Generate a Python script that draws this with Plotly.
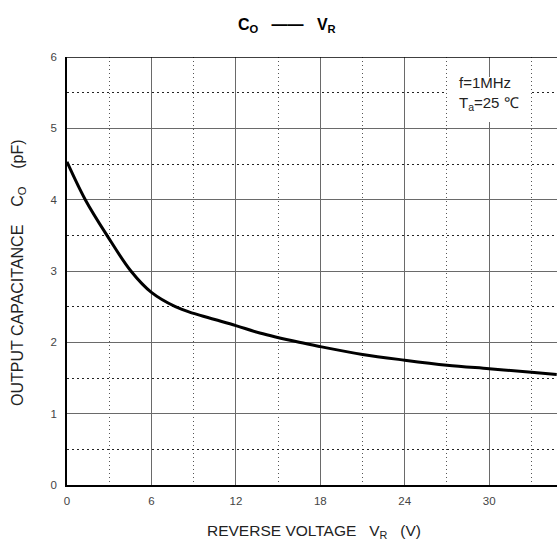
import plotly.graph_objects as go

# Data
vr = [0, 1.3, 2.84, 4.54, 6, 7.7, 9, 10.5, 12, 13.7, 16.5, 18,
      21, 24, 27, 30, 33, 34.8]
co = [4.53, 4.0, 3.5, 3.0, 2.70, 2.5, 2.405, 2.32, 2.235, 2.13, 2.0, 1.94,
      1.83, 1.75, 1.68, 1.63, 1.58, 1.55]
x_ticks = [0, 6, 12, 18, 24, 30]
y_ticks = [0, 1, 2, 3, 4, 5, 6]

W, H = 557, 545
L, R, T, B = 67, 0, 57, 60
PW, PH = W - L - R, H - T - B
X_MAX = 34.82


def px_x(p):
    return (p - L) / PW


def px_y(p):
    return 1 - (p - T) / PH


fig = go.Figure()
fig.add_trace(go.Scatter(x=vr, y=co, mode="lines",
                         line=dict(color="black", width=3, shape="spline", smoothing=1),
                         showlegend=False, hoverinfo="skip"))

axis_common = dict(
    showgrid=True, gridcolor="#6a6a6a", gridwidth=1,
    showline=True, linecolor="black", linewidth=1.5,
    ticks="", zeroline=False,
    tickfont=dict(family="Liberation Sans, Arial", size=11.5, color="#444"),
)
fig.update_xaxes(range=[0, X_MAX], tickvals=x_ticks, **axis_common,
                 minor=dict(dtick=3, tick0=0, showgrid=True, gridcolor="#555",
                            griddash="1px,3px", gridwidth=1, ticks=""),
                 ticklabelstandoff=4)
fig.update_yaxes(range=[0, 6], tickvals=y_ticks, **axis_common,
                 minor=dict(dtick=0.5, tick0=0, showgrid=True, gridcolor="#222",
                            griddash="2px,3px", gridwidth=1, ticks=""),
                 ticklabelstandoff=6)

# top border
fig.add_shape(type="line", xref="paper", yref="y", x0=0, x1=1, y0=6, y1=6,
              line=dict(color="black", width=1.5))
# white box behind the condition note
fig.add_shape(type="rect", xref="paper", yref="paper",
              x0=px_x(447), x1=px_x(529), y0=px_y(122), y1=px_y(77),
              fillcolor="white", line=dict(width=0), layer="above")

font_t = dict(family="Liberation Sans, Arial", color="#222")
nb = "\u00a0"
fig.add_annotation(xref="paper", yref="paper",
                   x=px_x(287), y=px_y(25),
                   text="<b>C<sub>O</sub>" + nb * 3 + "——" + nb * 3 + "V<sub>R</sub></b>",
                   showarrow=False, font=dict(size=16, family="Liberation Sans, Arial", color="black"),
                   xanchor="center", yanchor="middle")
fig.add_annotation(xref="paper", yref="paper",
                   x=px_x(314), y=px_y(531),
                   text="REVERSE VOLTAGE" + nb * 3 + "V<sub>R</sub>" + nb * 3 + "(V)",
                   showarrow=False, font=dict(size=15.5, **font_t),
                   xanchor="center", yanchor="middle")
fig.add_annotation(xref="paper", yref="paper",
                   x=px_x(18), y=px_y(273),
                   text="OUTPUT CAPACITANCE" + nb * 4 + "C<sub>O</sub>" + nb * 4 + "(pF)",
                   textangle=-90, showarrow=False, font=dict(size=16, **font_t),
                   xanchor="center", yanchor="middle")
fig.add_annotation(xref="paper", yref="paper", x=px_x(457), y=px_y(93),
                   text="f=1MHz<br>T<sub>a</sub>=25 ℃", align="left",
                   showarrow=False, font=dict(size=15, **font_t),
                   xanchor="left", yanchor="middle")

fig.update_layout(width=W, height=H, margin=dict(l=L, r=R, t=T, b=B),
                  plot_bgcolor="white", paper_bgcolor="white")
fig.write_html("out.html", config={"displayModeBar": False},
               post_script="document.body.style.margin='0';document.body.style.overflow='hidden';")
